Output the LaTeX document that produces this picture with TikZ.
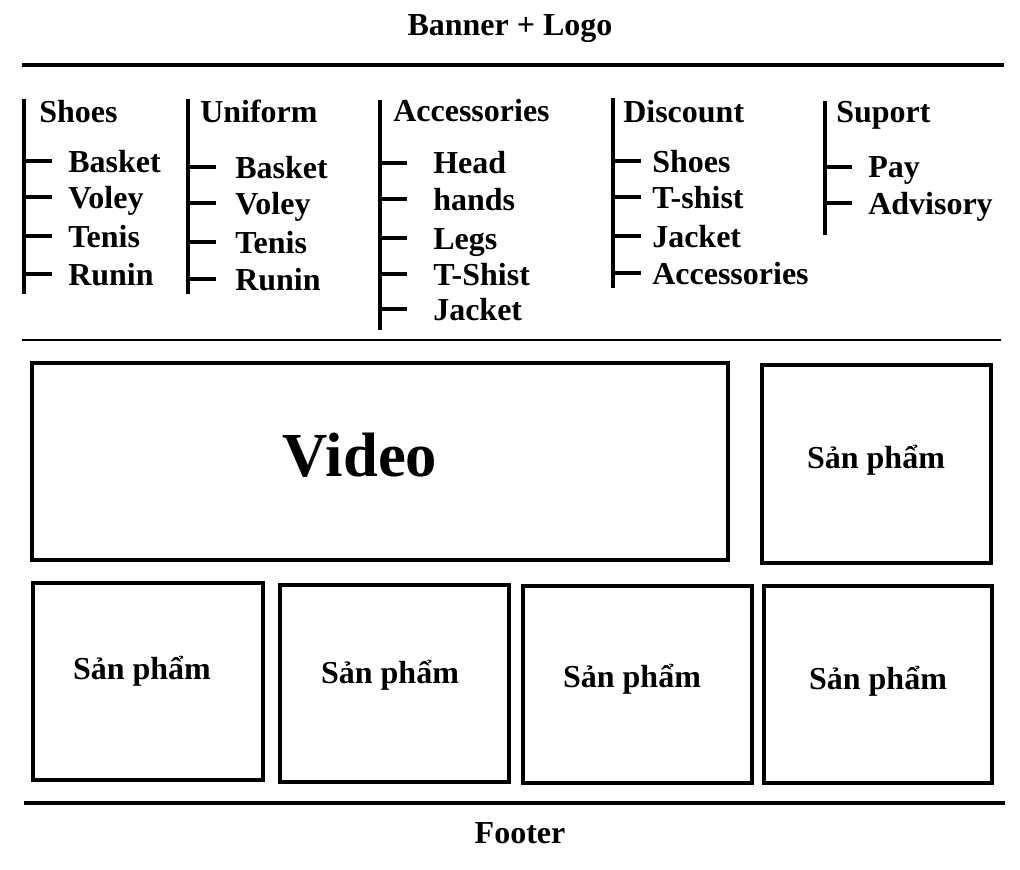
\documentclass[tikz,border=0pt]{standalone}
\usepackage{fontspec}
\setmainfont{Liberation Serif}
\tikzset{
  txt/.style={inner sep=0pt,font=\fontsize{24pt}{28pt}\selectfont\bfseries},
  itemtxt/.style={txt,anchor=base west},
  ctrtxt/.style={txt,anchor=base},
  rule/.style={line width=2.4pt},
  mline/.style={line width=2.3pt},
  box/.style={draw,line width=3.7pt,inner sep=0pt,minimum width=171.75pt,minimum height=147.75pt}}
\newcommand{\menucol}[5]{%
  \coordinate (#1top) at (#2,#3);
  \coordinate (#1bot) at (#2,#4);
  \draw[mline] (#1top) -- (#1bot);
  \foreach \ty/\tx/\lbl [count=\i] in {#5} {
    \coordinate (#1t\i a) at (#2,\ty);
    \coordinate (#1t\i b) at (\tx,\ty);
    \draw[mline] (#1t\i a) -- (#1t\i b);
  }%
}
\begin{document}
\begin{tikzpicture}[x=0.75pt,y=-0.75pt]
\useasboundingbox (0,0) rectangle (1020,870);

% banner and rules
\node[ctrtxt] (banner) at (510,36) {Banner + Logo};
\coordinate (r1a) at (22,65);  \coordinate (r1b) at (1004,65);
\coordinate (r2a) at (22,340); \coordinate (r2b) at (1001,340);
\coordinate (r3a) at (24,803); \coordinate (r3b) at (1005,803);
\draw[rule] (r1a) -- (r1b);
\draw[line width=2.1pt] (r2a) -- (r2b);
\draw[rule] (r3a) -- (r3b);
\node[ctrtxt] (footer) at (520,843) {Footer};

% menu columns: lines and ticks
\menucol{sh}{24}{99}{294}{161/52/a,197/52/b,236/52/c,274/52/d}
\menucol{un}{188}{99}{294}{167/216/a,203/216/b,242/216/c,279/216/d}
\menucol{ac}{380}{100}{330}{163/407/a,199/407/b,238/407/c,274/407/d,309/407/e}
\menucol{di}{613}{98}{288}{161/641/a,197/641/b,236/641/c,273/641/d}
\menucol{su}{825}{101}{235}{167/852/a,203/852/b}

% menu texts
\node[itemtxt] (shh) at (39,123) {Shoes};
\node[itemtxt] (sh1) at (68,172) {Basket};
\node[itemtxt] (sh2) at (68,208) {Voley};
\node[itemtxt] (sh3) at (68,247) {Tenis};
\node[itemtxt] (sh4) at (68,285) {Runin};

\node[itemtxt] (unh) at (200,123) {Uniform};
\node[itemtxt] (un1) at (235,178) {Basket};
\node[itemtxt] (un2) at (235,214) {Voley};
\node[itemtxt] (un3) at (235,253) {Tenis};
\node[itemtxt] (un4) at (235,290) {Runin};

\node[itemtxt] (ach) at (393,122) {Accessories};
\node[itemtxt] (ac1) at (433,174) {Head};
\node[itemtxt] (ac2) at (433,210) {hands};
\node[itemtxt] (ac3) at (433,249) {Legs};
\node[itemtxt] (ac4) at (433,285) {T-Shist};
\node[itemtxt] (ac5) at (433,320) {Jacket};

\node[itemtxt] (dih) at (623,123) {Discount};
\node[itemtxt] (di1) at (652,172) {Shoes};
\node[itemtxt] (di2) at (652,208) {T-shist};
\node[itemtxt] (di3) at (652,247) {Jacket};
\node[itemtxt] (di4) at (652,284) {Accessories};

\node[itemtxt] (suh) at (836,123) {Suport};
\node[itemtxt] (su1) at (868,177) {Pay};
\node[itemtxt] (su2) at (868,214) {Advisory};

% content boxes
\node[box,minimum width=522pt,minimum height=147.75pt] (videobox) at (380,461.5) {};
\node[txt,anchor=base,font=\fontsize{47pt}{52pt}\selectfont\bfseries] (video) at (360,476) {Video};

\node[box,minimum height=148.5pt] (p0) at (876.5,464) {};
\node[ctrtxt] (p0t) at (876,468) {Sản phẩm};

\node[box,minimum width=172.5pt] (p1) at (148,681.5) {};
\node[ctrtxt] (p1t) at (142,679) {Sản phẩm};
\node[box] (p2) at (394.5,683.5) {};
\node[ctrtxt] (p2t) at (390,683) {Sản phẩm};
\node[box] (p3) at (637.5,684.5) {};
\node[ctrtxt] (p3t) at (632,687) {Sản phẩm};
\node[box,minimum width=171pt] (p4) at (878,684.5) {};
\node[ctrtxt] (p4t) at (878,689) {Sản phẩm};
\end{tikzpicture}
\end{document}
